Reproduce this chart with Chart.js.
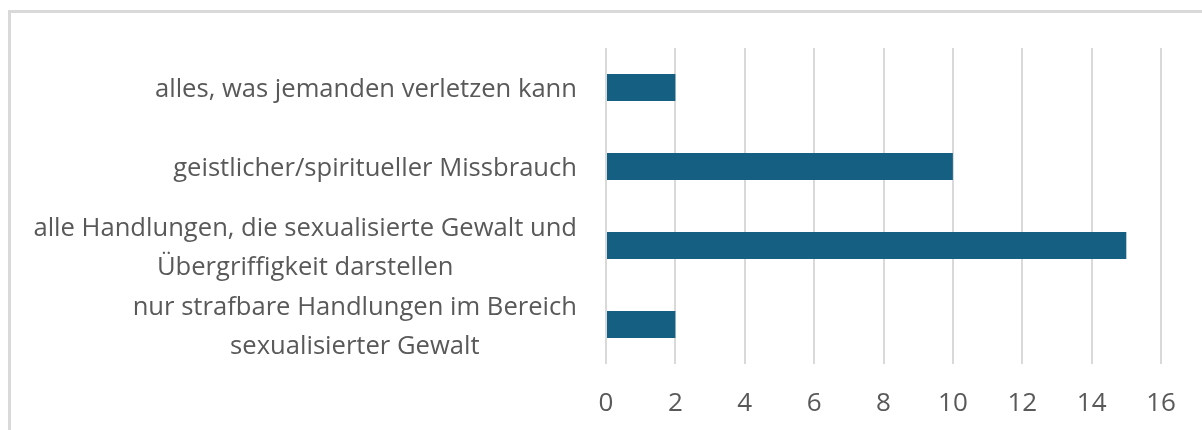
<!DOCTYPE html>
<html>
<head>
<meta charset="utf-8">
<script src="https://cdn.jsdelivr.net/npm/chart.js@4"></script>
<style>
    html, body { margin: 0; padding: 0; background: #fff; overflow: hidden; }
    #frame {
        position: absolute; left: 8px; top: 10px;
        width: 1400px; height: 600px;
        border: 3px solid #d9d9d9; box-sizing: border-box;
    }
    #wrap { position: absolute; left: 0; top: 0; width: 1202px; height: 430px; }
</style>
</head>
<body>
<div id="frame"></div>
<div id="wrap"><canvas id="chart"></canvas></div>
<script>
// categories top to bottom, each line of a label as its own entry
const categories = [
    ['alles, was jemanden verletzen kann'],
    ['geistlicher/spiritueller Missbrauch'],
    ['alle Handlungen, die sexualisierte Gewalt und', 'Übergriffigkeit darstellen'],
    ['nur strafbare Handlungen im Bereich', 'sexualisierter Gewalt']
];
const counts = [2, 10, 15, 2];
const xTicks = [0, 2, 4, 6, 8, 10, 12, 14, 16];

const FONT = '"Open Sans", "Noto Sans", sans-serif';
const TEXT = '#595959';

// Excel centres each wrapped label on itself, then right-aligns the block
const labelPlugin = {
    id: 'labelPlugin',
    afterDraw(chart) {
        const ctx = chart.ctx;
        const y = chart.scales.y;
        const right = chart.chartArea.left - 29;
        const lineH = 38.5;
        ctx.save();
        ctx.font = '25.6px ' + FONT;
        ctx.fillStyle = TEXT;
        ctx.textAlign = 'center';
        ctx.textBaseline = 'middle';
        categories.forEach((lines, i) => {
            const maxW = Math.max(...lines.map(l => ctx.measureText(l).width));
            const cx = right - maxW / 2;
            const cy = y.getPixelForValue(i) + 2.5;
            lines.forEach((l, j) => {
                ctx.fillText(l, cx, cy + (j - (lines.length - 1) / 2) * lineH);
            });
        });
        ctx.restore();
    }
};

new Chart(document.getElementById('chart'), {
    type: 'bar',
    data: {
        labels: categories,
        datasets: [{
            data: counts,
            backgroundColor: '#156082',
            barPercentage: 0.34,
            categoryPercentage: 1
        }]
    },
    options: {
        indexAxis: 'y',
        responsive: true,
        maintainAspectRatio: false,
        animation: false,
        layout: { padding: { top: 48, right: 41, left: 0, bottom: 0 } },
        plugins: { legend: { display: false }, tooltip: { enabled: false } },
        scales: {
            x: {
                min: 0, max: 16,
                afterBuildTicks: s => { s.ticks = xTicks.map(v => ({ value: v })); },
                afterFit: s => { s.height = 66; },
                grid: { color: '#d9d9d9', lineWidth: 2, drawTicks: false },
                border: { display: false },
                ticks: {
                    color: TEXT,
                    padding: 24,
                    font: { family: FONT, size: 26 }
                }
            },
            y: {
                afterFit: s => { s.width = 606; },
                grid: { display: false, drawTicks: false },
                border: { display: false },
                ticks: { display: false }
            }
        }
    },
    plugins: [labelPlugin]
});
</script>
</body>
</html>
